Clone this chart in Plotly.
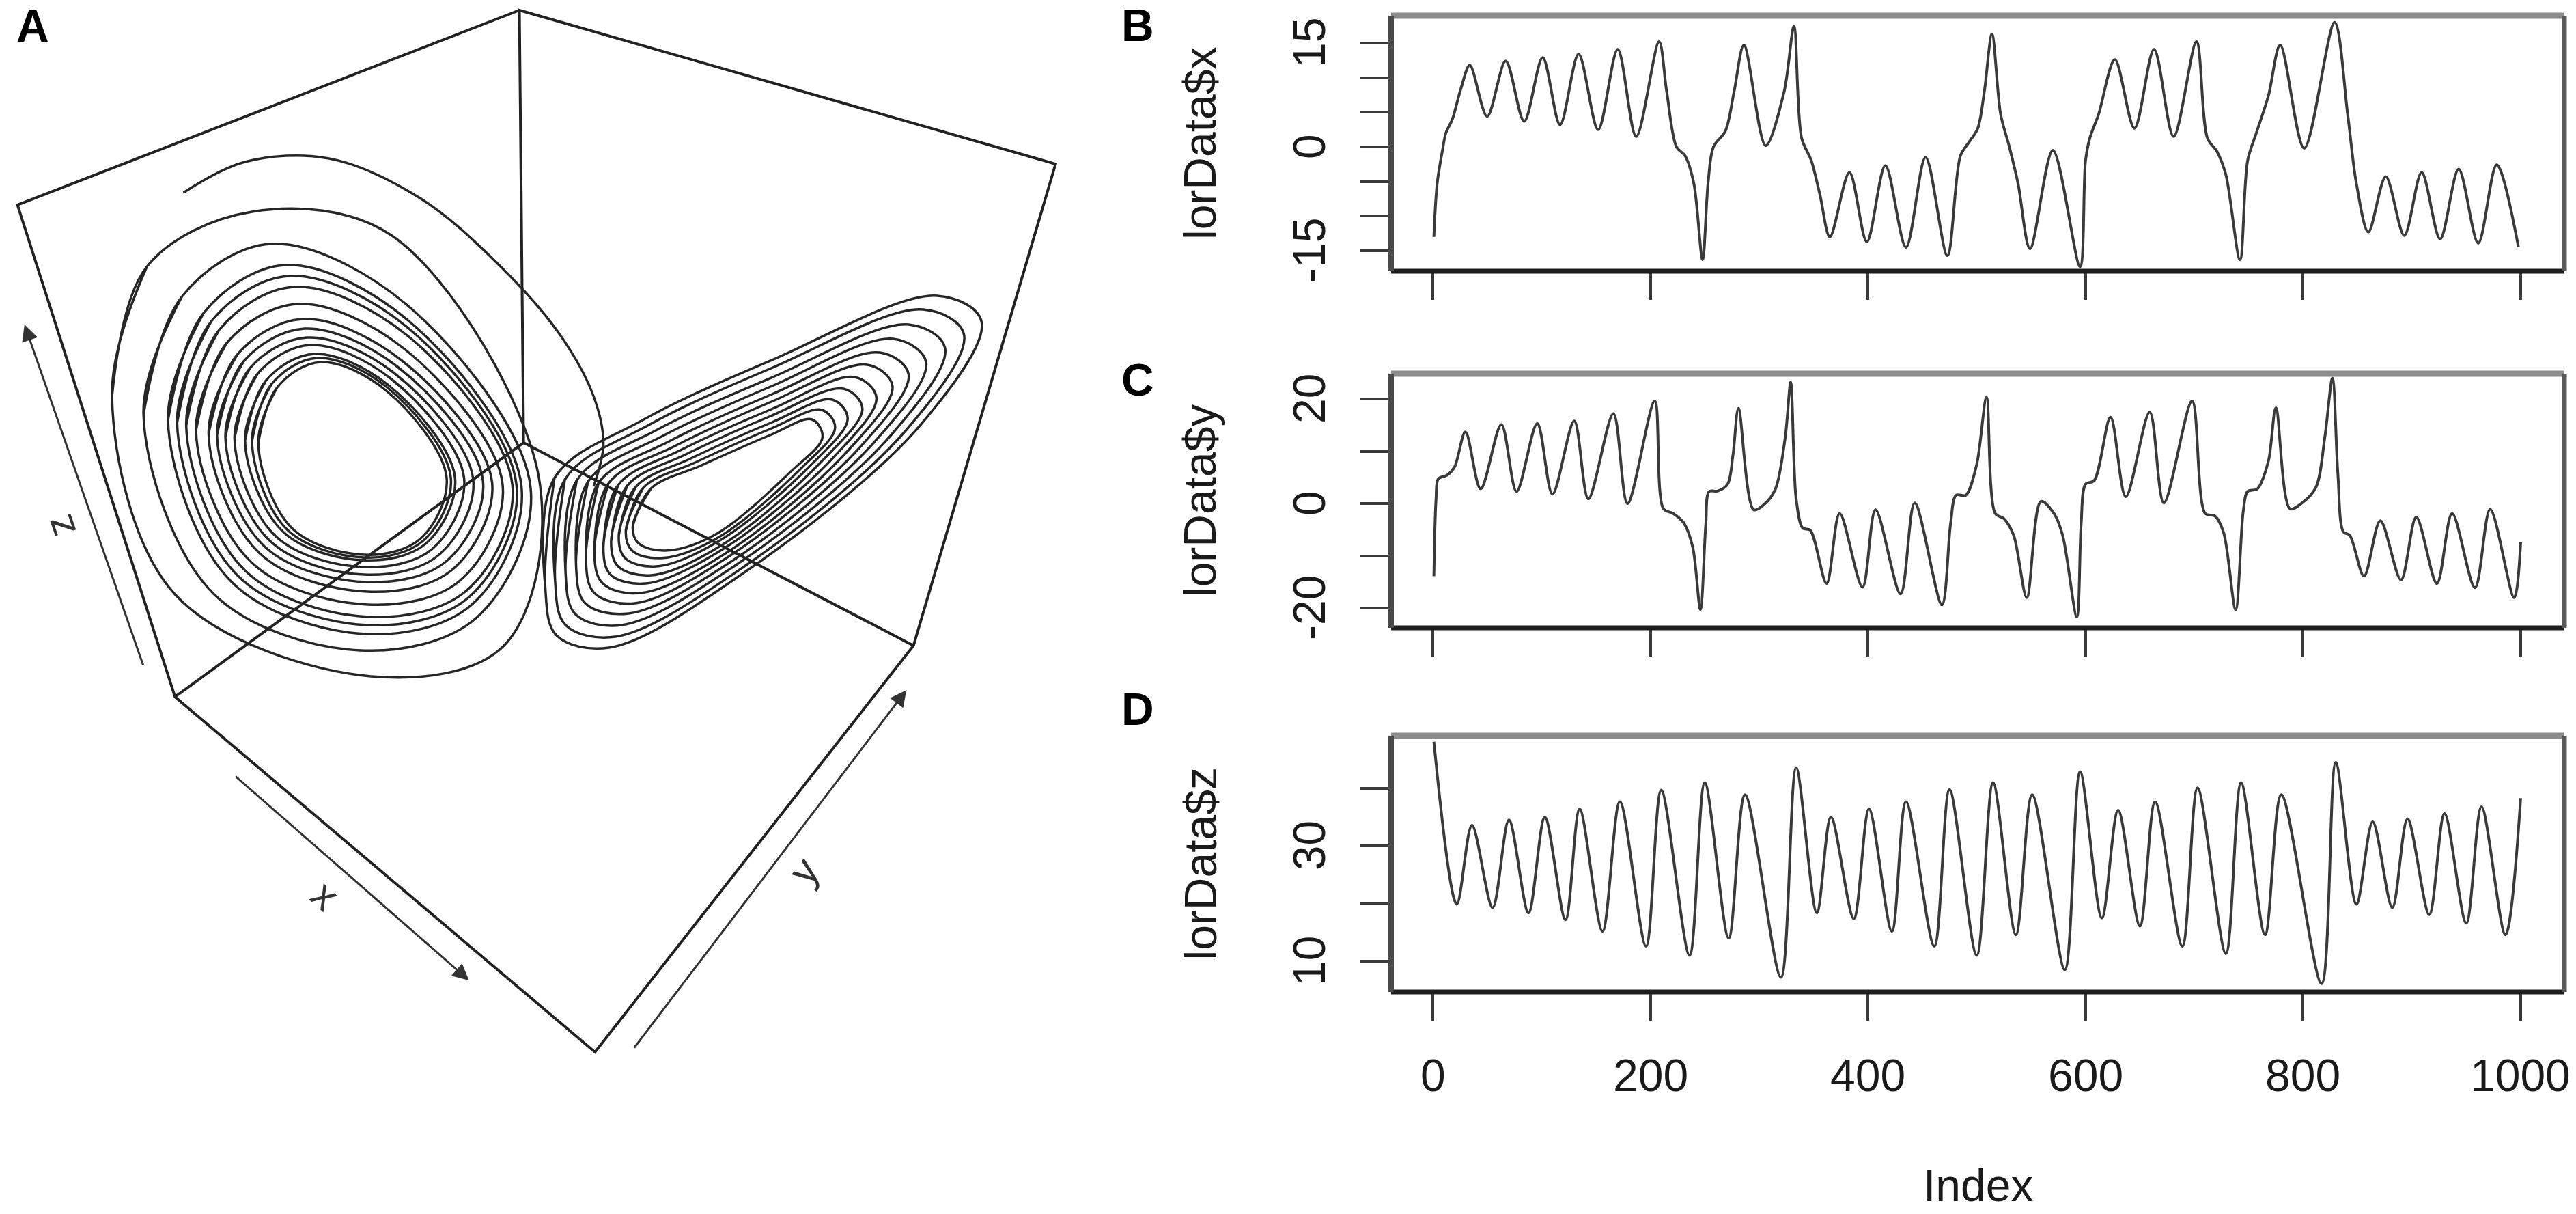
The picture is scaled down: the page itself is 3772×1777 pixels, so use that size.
import plotly.graph_objects as go

W, H = 3772, 1777

X_IDX = [1, 4, 9, 12, 18, 26, 34, 50, 67, 84, 101, 117, 134, 152, 170, 187, 208, 215, 224, 232,
         240, 248, 253, 258, 269, 277, 286, 306, 323, 332, 339, 348, 356, 365, 383, 399, 416, 435,
         453, 473, 485, 493, 501, 507, 514, 522, 530, 538, 549, 570, 595, 600, 604, 612, 627, 645,
         663, 681, 702, 712, 721, 729, 742, 749, 757, 768, 779, 801, 829, 841, 849, 860, 876, 893,
         909, 926, 943, 961, 978, 998]
X_VAL = [-13.0, -5.3, -0.4, 2.0, 4.0, 8.5, 11.8, 4.4, 12.4, 3.7, 12.9, 3.2, 13.4, 2.5, 14.1, 1.5,
         15.2, 8.0, 0.0, -1.3, -5.3, -16.3, -5.3, 0.0, 2.3, 8.0, 14.7, 0.2, 8.0, 17.4, 1.3, -2.0,
         -7.0, -13.0, -3.7, -13.7, -2.7, -14.5, -1.5, -15.7, -1.3, 0.7, 2.7, 8.0, 16.3, 4.7, 0.0,
         -5.3, -14.7, -0.5, -17.3, -2.0, 1.3, 4.7, 12.6, 2.7, 14.1, 1.5, 15.2, 1.3, -0.7, -4.0,
         -16.3, -2.0, 2.0, 7.3, 14.7, -0.2, 18.0, 4.7, -5.3, -12.3, -4.3, -12.8, -3.7, -13.3, -3.2,
         -13.9, -2.6, -14.5]

Y_IDX = [1, 3, 5, 13, 20, 30, 44, 63, 77, 96, 110, 130, 143, 166, 179, 204, 212, 221, 231, 239,
         246, 251, 254, 262, 271, 276, 281, 295, 305, 315, 324, 329, 334, 340, 347, 362, 374, 395,
         407, 430, 443, 468, 476, 481, 490, 500, 509, 517, 525, 534, 546, 559, 571, 579, 592, 596,
         600, 608, 623, 637, 659, 672, 698, 710, 719, 727, 738, 745, 749, 758, 768, 775, 788, 799,
         812, 820, 827, 832, 837, 843, 856, 871, 890, 904, 923, 937, 958, 972, 994, 1000]
Y_VAL = [-13.9, 0.9, 4.7, 5.4, 7.0, 13.7, 2.8, 15.1, 2.3, 15.3, 1.8, 15.8, 0.9, 17.2, 0.0, 19.6,
         -1.0, -1.9, -3.8, -8.4, -20.3, -3.8, 2.3, 2.4, 3.7, 9.4, 18.2, -1.2, -0.1, 2.8, 12.7, 23.2,
         0.9, -4.7, -5.1, -15.3, -1.9, -16.0, -1.2, -17.3, 0.1, -19.4, -3.8, 1.6, 1.6, 7.5, 20.3,
         -1.9, -2.9, -6.1, -18.0, 0.4, -1.9, -6.1, -21.7, -3.8, 3.7, 4.4, 16.5, 1.3, 17.5, 0.1,
         19.6, -1.9, -2.4, -5.6, -20.3, -1.5, 2.3, 2.8, 8.0, 18.3, -1.0, 0.1, 3.2, 12.7, 24.0, 5.6,
         -5.4, -6.1, -13.9, -3.3, -14.6, -2.6, -15.3, -1.9, -16.1, -1.1, -18.0, -7.4]

Z_IDX = [1, 22, 36, 55, 70, 88, 103, 122, 135, 156, 172, 196, 210, 236, 250, 272, 287, 320, 334,
         353, 366, 387, 401, 422, 435, 461, 475, 500, 515, 536, 551, 581, 595, 615, 630, 650, 664,
         689, 703, 729, 743, 765, 780, 817, 830, 849, 864, 882, 896, 916, 930, 950, 964, 986, 1000]
Z_VAL = [48.1, 19.9, 33.6, 19.3, 34.5, 18.4, 35.0, 17.2, 36.4, 15.2, 37.7, 12.6, 39.7, 11.0, 41.0,
         14.0, 38.9, 7.2, 43.6, 18.4, 35.0, 17.4, 36.4, 15.2, 37.7, 12.6, 39.8, 11.0, 41.0, 14.6,
         38.9, 8.5, 42.9, 17.5, 36.2, 16.1, 37.7, 12.6, 40.1, 11.3, 41.0, 14.6, 38.9, 6.1, 44.5,
         19.9, 34.2, 19.3, 34.7, 18.1, 35.6, 16.6, 36.8, 14.6, 38.3]

IDX_TICKS = [0, 200, 400, 600, 800, 1000]
PANELS = [
    # axis suffix, series, y ticks, labelled y ticks, y label, panel letter
    ("", X_IDX, X_VAL, [-15, -10, -5, 0, 5, 10, 15], [15, 0, -15], "lorData$x", "B"),
    ("2", Y_IDX, Y_VAL, [-20, -10, 0, 10, 20], [20, 0, -20], "lorData$y", "C"),
    ("3", Z_IDX, Z_VAL, [10, 20, 30, 40], [10, 30], "lorData$z", "D"),
]

# ---------------- panel A: projected trajectory (picture coordinates) ----------------
BOX_X = [742, 25, 250, 850, 1305, 1508, 742, 748, 250, None, 748, 1305]
BOX_Y = [15, 300, 1020, 1540, 945, 240, 15, 648, 1020, None, 648, 945]

LEFT_RINGS_X = [
    [369, 396, 458, 552, 638, 600, 520, 417],
    [360, 388, 453, 553, 644, 604, 519, 410],
    [350, 380, 449, 554, 650, 608, 518, 404],
    [335, 368, 443, 558, 663, 617, 519, 394],
    [322, 357, 439, 563, 676, 626, 520, 386],
    [310, 348, 435, 568, 690, 637, 523, 378],
    [298, 339, 432, 573, 703, 646, 525, 371],
    [280, 324, 425, 578, 718, 657, 525, 359],
    [266, 313, 420, 583, 732, 667, 527, 350],
    [253, 302, 413, 583, 738, 670, 525, 340],
    [240, 291, 407, 583, 745, 674, 523, 331],
    [205, 260, 387, 581, 758, 681, 515, 305],
    [160, 210, 360, 560, 770, 720, 530, 250],
]
LEFT_RINGS_Y = [
    [648, 567, 530, 572, 699, 789, 812, 773],
    [646, 562, 524, 567, 699, 792, 816, 775],
    [645, 557, 518, 563, 699, 796, 820, 778],
    [642, 547, 505, 554, 700, 804, 830, 785],
    [640, 539, 494, 546, 702, 813, 841, 792],
    [637, 529, 481, 537, 704, 822, 852, 800],
    [635, 519, 467, 527, 706, 834, 866, 810],
    [630, 502, 445, 511, 709, 850, 885, 823],
    [623, 483, 420, 492, 710, 864, 903, 835],
    [619, 470, 404, 480, 711, 874, 915, 843],
    [615, 458, 388, 469, 712, 885, 928, 852],
    [607, 434, 357, 446, 714, 904, 952, 869],
    [580, 390, 310, 345, 700, 945, 990, 870],
]
RIGHT_RINGS_X = [
    [904, 930, 1000, 1100, 1160, 1175, 1130, 1021, 950, 912],
    [894, 919, 993, 1100, 1174, 1193, 1145, 1024, 944, 903],
    [884, 908, 987, 1101, 1189, 1211, 1160, 1027, 937, 893],
    [873, 896, 980, 1101, 1205, 1232, 1176, 1031, 930, 883],
    [862, 883, 972, 1102, 1221, 1252, 1193, 1034, 923, 872],
    [849, 869, 964, 1102, 1239, 1275, 1211, 1038, 915, 861],
    [837, 855, 956, 1103, 1257, 1298, 1230, 1042, 907, 849],
    [823, 840, 947, 1103, 1276, 1323, 1250, 1046, 898, 836],
    [808, 824, 937, 1104, 1298, 1350, 1272, 1050, 888, 822],
    [793, 807, 927, 1104, 1319, 1377, 1295, 1055, 879, 808],
    [779, 792, 918, 1105, 1339, 1402, 1315, 1059, 870, 795],
]
RIGHT_RINGS_Y = [
    [770, 715, 682, 637, 614, 640, 690, 783, 806, 795],
    [777, 714, 677, 628, 600, 626, 685, 788, 817, 806],
    [784, 713, 671, 619, 585, 613, 679, 792, 829, 817],
    [793, 711, 665, 609, 569, 598, 673, 798, 842, 829],
    [801, 710, 659, 599, 552, 582, 667, 803, 854, 841],
    [810, 708, 653, 588, 534, 565, 660, 809, 868, 854],
    [819, 707, 646, 577, 516, 548, 653, 814, 883, 868],
    [829, 705, 638, 565, 496, 530, 646, 821, 898, 883],
    [839, 703, 630, 552, 475, 509, 638, 828, 915, 899],
    [850, 702, 622, 538, 453, 489, 629, 835, 932, 915],
    [860, 700, 615, 526, 433, 470, 622, 841, 948, 930],
]
ARM_X = [262, 350, 470, 600, 715, 800, 848, 862, 848]
ARM_Y = [282, 237, 232, 290, 390, 490, 580, 650, 712]

# axis arrows (start, end) and their labels
ARROWS = [((205, 975), (35, 475)), ((335, 1135), (670, 1435)), ((905, 1535), (1295, 1010))]
AXIS_LABELS = [("z", 85, 770, -109), ("x", 465, 1310, 42), ("y", 1148, 1275, -53)]

FONT = "Liberation Sans, Arial, Helvetica, sans-serif"
INK = "#262626"


def py(pix):
    """pixel row -> paper fraction"""
    return 1 - pix / H


fig = go.Figure()

# ---- time series panels
DOM_X = [2037 / W, 3755 / W]
DOM_Y = {"": [py(397), py(23)], "2": [py(919), py(547)], "3": [py(1452), py(1077)]}
RANGE_Y = {"": [-17.96, 18.95], "2": [-23.79, 24.84], "3": [4.66, 49.13]}
LETTER_Y = {"": 37, "2": 556, "3": 1038}

annotations = []
shapes = []
layout = {}

for sfx, idx, val, yticks, ylab_vals, ytitle, letter in PANELS:
    fig.add_trace(go.Scatter(
        x=idx, y=val, mode="lines",
        line=dict(color="#3a3a3a", width=4, shape="spline", smoothing=0.9),
        xaxis="x" + sfx, yaxis="y" + sfx, showlegend=False, hoverinfo="skip",
    ))
    layout["xaxis" + sfx] = dict(
        domain=DOM_X, range=[-38.3, 1040.2], anchor="y" + sfx,
        tickvals=IDX_TICKS, ticks="outside", ticklen=41, tickwidth=4, tickcolor="#3a3a3a",
        showticklabels=False, showgrid=False, zeroline=False, showline=False, fixedrange=True,
    )
    layout["yaxis" + sfx] = dict(
        domain=DOM_Y[sfx], range=RANGE_Y[sfx], anchor="x" + sfx,
        tickvals=yticks, ticks="outside", ticklen=44, tickwidth=4, tickcolor="#3a3a3a",
        showticklabels=False, showgrid=False, zeroline=False, showline=False, fixedrange=True,
    )
    # frame, drawn side by side as in the scanned figure
    xd, yd = ("x" + sfx + " domain"), ("y" + sfx + " domain")
    for x0, y0, x1, y1, col, wd in [(0, 1, 1, 1, "#8c8c8c", 9), (0, 0, 1, 0, "#1e1e1e", 7),
                                    (0, 0, 0, 1, "#4a4a4a", 8), (1, 0, 1, 1, "#5a5a5a", 7)]:
        shapes.append(dict(type="line", xref=xd, yref=yd, x0=x0, y0=y0, x1=x1, y1=y1,
                           line=dict(color=col, width=wd)))
    # rotated y tick labels
    for v in ylab_vals:
        annotations.append(dict(x=1917 / W, xref="paper", y=v, yref="y" + sfx, text=str(v),
                                textangle=-90, showarrow=False, xanchor="center", yanchor="middle",
                                font=dict(family=FONT, size=66, color="#1a1a1a")))
    annotations.append(dict(x=1757 / W, xref="paper", y=0.5, yref=yd, text=ytitle,
                            textangle=-90, showarrow=False, xanchor="center", yanchor="middle",
                            font=dict(family=FONT, size=66, color="#1a1a1a")))
    annotations.append(dict(x=1640 / W, xref="paper", y=py(LETTER_Y[sfx]), yref="paper",
                            text="<b>" + letter + "</b>", showarrow=False, xanchor="left",
                            yanchor="middle", font=dict(family=FONT, size=66, color="black")))

# x tick labels and title under panel D
for v in IDX_TICKS:
    annotations.append(dict(x=v, xref="x3", y=py(1574), yref="paper", text=str(v),
                            showarrow=False, xanchor="center", yanchor="middle",
                            font=dict(family=FONT, size=66, color="#1a1a1a")))
annotations.append(dict(x=0.5, xref="x3 domain", y=py(1735), yref="paper", text="Index",
                        showarrow=False, xanchor="center", yanchor="middle",
                        font=dict(family=FONT, size=66, color="#1a1a1a")))

# ---- panel A
fig.add_trace(go.Scatter(x=BOX_X, y=BOX_Y, mode="lines", line=dict(color="#222", width=4),
                         xaxis="x4", yaxis="y4", showlegend=False, hoverinfo="skip"))

for rx, ry in zip(LEFT_RINGS_X + RIGHT_RINGS_X, LEFT_RINGS_Y + RIGHT_RINGS_Y):
    fig.add_trace(go.Scatter(
        x=rx + rx[:2], y=ry + ry[:2], mode="lines",
        line=dict(color=INK, width=3.5, shape="spline", smoothing=1.0),
        xaxis="x4", yaxis="y4", showlegend=False, hoverinfo="skip",
    ))
fig.add_trace(go.Scatter(x=ARM_X, y=ARM_Y, mode="lines",
                         line=dict(color=INK, width=3.5, shape="spline", smoothing=1.0),
                         xaxis="x4", yaxis="y4", showlegend=False, hoverinfo="skip"))

for (x0, y0), (x1, y1) in ARROWS:
    annotations.append(dict(x=x1, y=y1, ax=x0, ay=y0, xref="x4", yref="y4", axref="x4",
                            ayref="y4", text="", showarrow=True, arrowhead=2, arrowsize=1.6,
                            arrowwidth=3, arrowcolor="#333"))
for txt, lx, ly, ang in AXIS_LABELS:
    annotations.append(dict(x=lx, y=ly, xref="x4", yref="y4", text=txt, textangle=ang,
                            showarrow=False, font=dict(family=FONT, size=60, color="#333")))
annotations.append(dict(x=22 / W, xref="paper", y=py(38), yref="paper", text="<b>A</b>",
                        showarrow=False, xanchor="left", yanchor="middle",
                        font=dict(family=FONT, size=66, color="black")))

layout["xaxis4"] = dict(domain=[0, 1600 / W], range=[0, 1561], visible=False, fixedrange=True,
                        anchor="y4")
layout["yaxis4"] = dict(domain=[py(1560), 1], range=[1560, 0], visible=False, fixedrange=True,
                        anchor="x4")

fig.update_layout(
    width=W, height=H, autosize=False,
    margin=dict(l=0, r=0, t=0, b=0),
    paper_bgcolor="white", plot_bgcolor="white",
    showlegend=False,
    annotations=annotations, shapes=shapes,
    **layout,
)

fig.write_html("out.html", config={"displayModeBar": False},
               post_script="document.body.style.margin='0';document.body.style.overflow='hidden';")
